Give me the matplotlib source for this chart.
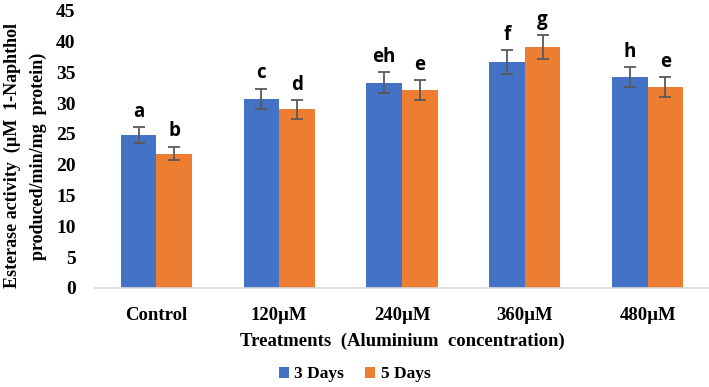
import numpy as np
import matplotlib.pyplot as plt

# Data
treatments = ['Control', '120µM', '240µM', '360µM', '480µM']
days3 = [24.8, 30.7, 33.3, 36.7, 34.2]
days5 = [21.8, 29.0, 32.1, 39.1, 32.6]
err3 = [1.3, 1.6, 1.7, 1.9, 1.6]
err5 = [1.1, 1.5, 1.6, 1.9, 1.6]
letters3 = ['a', 'c', 'eh', 'f', 'h']
letters5 = ['b', 'd', 'e', 'g', 'e']

serif = 'Liberation Serif'
blue = '#4472C4'
orange = '#ED7D31'

fig = plt.figure(figsize=(7.09, 3.87), dpi=100)
ax = fig.add_axes([0.134, 0.256, 0.866, 0.716])

x = np.arange(len(treatments))
w = 0.29
ekw = dict(ecolor='#595959', elinewidth=1.3, capsize=4, capthick=1.3)
ax.bar(x - w/2, days3, w, yerr=err3, color=blue, label='3 Days', error_kw=ekw)
ax.bar(x + w/2, days5, w, yerr=err5, color=orange, label='5 Days', error_kw=ekw)

# significance letters
for xi, v, e, t in zip(x - w/2, days3, err3, letters3):
    ax.annotate(t, (xi, v + e), xytext=(0, 4), textcoords='offset points',
                ha='center', va='bottom', fontsize=13.5, fontweight='bold',
                family='Open Sans')
for xi, v, e, t in zip(x + w/2, days5, err5, letters5):
    ax.annotate(t, (xi, v + e), xytext=(0, 4), textcoords='offset points',
                ha='center', va='bottom', fontsize=13.5, fontweight='bold',
                family='Open Sans')

ax.set_xlim(-0.5, len(treatments) - 0.5)
ax.set_ylim(0, 45)
ax.set_yticks(np.arange(0, 46, 5))
ax.set_xticks(x)
ax.set_xticklabels(treatments, family=serif, fontweight='bold', fontsize=13.5)
for lab in ax.get_yticklabels():
    lab.set_family(serif)
    lab.set_fontweight('bold')
    lab.set_fontsize(14)
ax.tick_params(length=0, pad=14)
ax.tick_params(axis='x', pad=14)

for s in ['top', 'right', 'left']:
    ax.spines[s].set_visible(False)
ax.spines['bottom'].set_color('#D9D9D9')
ax.spines['bottom'].set_linewidth(1.2)

ax.set_xlabel('Treatments  (Aluminium  concentration)', family=serif,
              fontweight='bold', fontsize=13.5, labelpad=6)
fig.text(0.017, 0.597, 'Esterase activity  (µM  1-Naphthol', rotation=90,
         ha='center', va='center', family=serif, fontweight='bold', fontsize=13)
fig.text(0.054, 0.597, 'produced/min/mg  protein)', rotation=90,
         ha='center', va='center', family=serif, fontweight='bold', fontsize=13)

fig.legend(loc='center', bbox_to_anchor=(0.5, 0.033), ncol=2, frameon=False,
           handlelength=0.6, handleheight=0.6, handletextpad=0.3, columnspacing=1.2,
           prop={'family': serif, 'weight': 'bold', 'size': 12.5})

fig.savefig('out.png', dpi=100)
